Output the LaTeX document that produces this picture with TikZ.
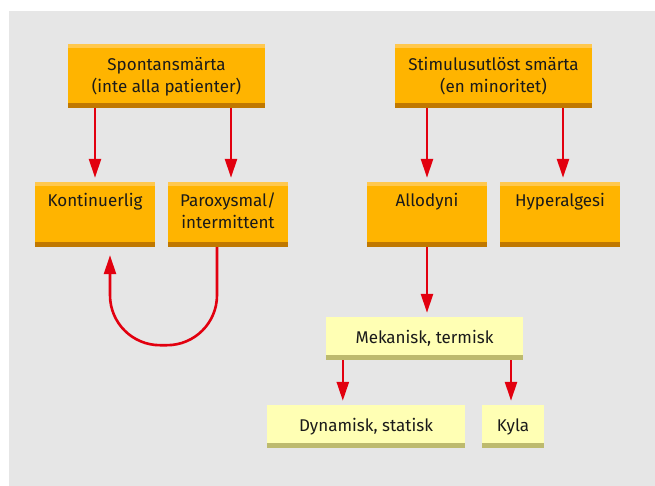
\documentclass[tikz,border=0pt]{standalone}
\usepackage{fontspec}
\setmainfont{Fira Sans}
\usetikzlibrary{arrows.meta}
\definecolor{bggray}{HTML}{E6E6E6}
\definecolor{orbox}{HTML}{FFB400}
\definecolor{orlight}{HTML}{FFC84E}
\definecolor{ordark}{HTML}{C07800}
\definecolor{yebox}{HTML}{FFFFB4}
\definecolor{yedark}{HTML}{BDBA6E}
\definecolor{arred}{HTML}{E2000F}
\definecolor{txt}{HTML}{1A1A1A}
\tikzset{
  obox/.style={draw=none, fill=orbox, inner sep=0pt, align=center, text=txt,
    font=\fontsize{17}{22}\selectfont,
    path picture={
      \fill[orlight] (path picture bounding box.north west) rectangle ([yshift=-4pt]path picture bounding box.north east);
      \fill[ordark] ([yshift=5pt]path picture bounding box.south west) rectangle (path picture bounding box.south east);
    }},
  ybox/.style={draw=none, fill=yebox, inner sep=0pt, align=center, text=txt,
    font=\fontsize{17}{22}\selectfont,
    path picture={
      \fill[yedark] ([yshift=5pt]path picture bounding box.south west) rectangle (path picture bounding box.south east);
    }},
  arr/.style={draw=arred, line width=2.6pt, -{Triangle[length=19pt,width=12pt]}, shorten >=4pt},
}
\begin{document}
\begin{tikzpicture}[x=1pt,y=-1pt]
\useasboundingbox (0,0) rectangle (655,486);
\fill[bggray] (9,11) rectangle (655,486);
% top row
\node[obox, minimum width=197pt, minimum height=64pt, text height=49pt, text depth=15pt] (sp) at (166.5,76) {Spontansmärta\\(inte alla patienter)};
\node[obox, minimum width=197pt, minimum height=64pt, text height=49pt, text depth=15pt] (st) at (493.5,76) {Stimulusutlöst smärta\\(en minoritet)};
% second row
\node[obox, minimum width=120pt, minimum height=65pt, text height=25pt, text depth=40pt] (kon) at (95,214.5) {Kontinuerlig};
\node[obox, minimum width=120pt, minimum height=65pt, text height=47pt, text depth=18pt] (par) at (228,214.5) {Paroxysmal/\\intermittent};
\node[obox, minimum width=120pt, minimum height=65pt, text height=25pt, text depth=40pt] (all) at (427,214.5) {Allodyni};
\node[obox, minimum width=120pt, minimum height=65pt, text height=25pt, text depth=40pt] (hyp) at (560,214.5) {Hyperalgesi};
% yellow
\node[ybox, minimum width=197pt, minimum height=43pt, text height=26pt, text depth=17pt] (mek) at (424.5,338.5) {Mekanisk, termisk};
\node[ybox, minimum width=198pt, minimum height=43pt, text height=26pt, text depth=17pt] (dyn) at (366,426.5) {Dynamisk, statisk};
\node[ybox, minimum width=62pt, minimum height=43pt, text height=26pt, text depth=17pt] (kyl) at (513,426.5) {Kyla};
% arrows
\draw[arr] (kon.north |- sp.south) -- (kon.north);
\draw[arr] ([xshift=3pt]par.north |- sp.south) -- ([xshift=3pt]par.north);
\draw[arr] (all.north |- st.south) -- (all.north);
\draw[arr] ([xshift=3pt]hyp.north |- st.south) -- ([xshift=3pt]hyp.north);
\draw[arr] (all.south) -- (all.south |- mek.north);
\draw[arr] ([xshift=17pt]mek.south west) -- ([xshift=17pt]mek.south west |- dyn.north);
\draw[arr] ([xshift=-2pt]kyl.north |- mek.south) -- ([xshift=-2pt]kyl.north);
\draw[arr, rounded corners=50pt, shorten >=8pt] ([xshift=-11pt]par.south) |- ([xshift=15pt,yshift=-98pt]kon.south) -- ([xshift=15pt]kon.south);
\end{tikzpicture}
\end{document}
